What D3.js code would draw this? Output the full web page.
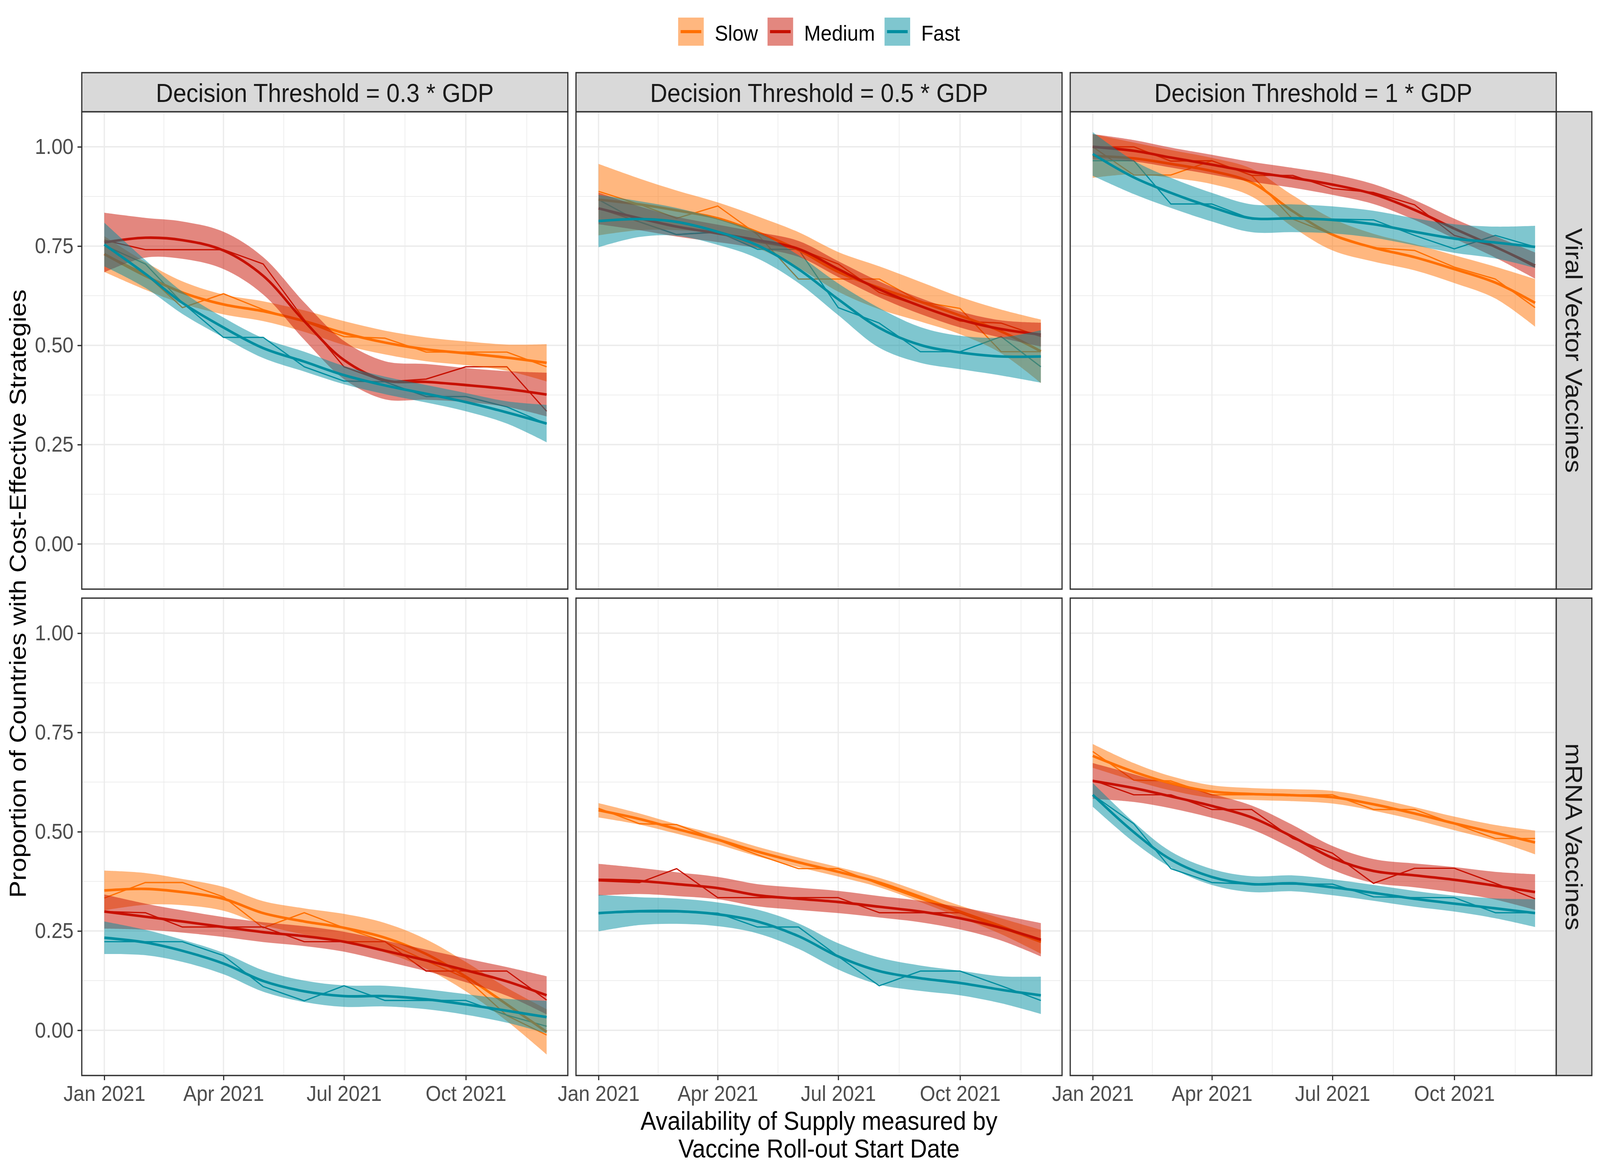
<!DOCTYPE html>
<html>
<head>
<meta charset="utf-8">
<script src="https://cdn.jsdelivr.net/npm/d3@7"></script>
<style>
  html, body { margin: 0; padding: 0; background: #fff; overflow: hidden; }
  svg { display: block; width: 100vw; height: 100vh; font-family: "Liberation Sans", Arial, sans-serif; }
</style>
</head>
<body>
<div id="chart"></div>
<script>
// categories
const months = ["2021-01-01", "2021-02-01", "2021-03-01", "2021-04-01", "2021-05-01", "2021-06-01",
  "2021-07-01", "2021-08-01", "2021-09-01", "2021-10-01", "2021-11-01", "2021-12-01"];
const vaccines = ["Viral Vector Vaccines", "mRNA Vaccines"];
const thresholds = ["Decision Threshold = 0.3 * GDP", "Decision Threshold = 0.5 * GDP", "Decision Threshold = 1 * GDP"];
const speeds = ["Slow", "Medium", "Fast"];
const yTicks = [0, 0.25, 0.5, 0.75, 1];
const xTicks = ["2021-01-01", "2021-04-01", "2021-07-01", "2021-10-01"];

// viral vector, 0.3 * GDP
const vv03SlowRaw = [0.73, 0.68, 0.595, 0.63, 0.59, 0.56, 0.522, 0.518, 0.483, 0.483, 0.483, 0.446];
const vv03SlowFit = [0.73, 0.675, 0.633, 0.603, 0.586, 0.561, 0.531, 0.507, 0.49, 0.48, 0.469, 0.456];
const vv03SlowSe = [0.045, 0.035, 0.028, 0.025, 0.025, 0.027, 0.03, 0.03, 0.03, 0.03, 0.033, 0.047];
const vv03MediumRaw = [0.765, 0.741, 0.741, 0.741, 0.705, 0.565, 0.446, 0.408, 0.415, 0.446, 0.446, 0.334];
const vv03MediumFit = [0.759, 0.771, 0.765, 0.739, 0.675, 0.561, 0.463, 0.412, 0.408, 0.4, 0.39, 0.376];
const vv03MediumSe = [0.075, 0.05, 0.047, 0.047, 0.047, 0.047, 0.048, 0.048, 0.045, 0.043, 0.045, 0.055];
const vv03FastRaw = [0.752, 0.705, 0.607, 0.52, 0.52, 0.446, 0.41, 0.408, 0.371, 0.371, 0.345, 0.302];
const vv03FastFit = [0.754, 0.68, 0.607, 0.545, 0.493, 0.459, 0.425, 0.399, 0.378, 0.357, 0.331, 0.303];
const vv03FastSe = [0.055, 0.035, 0.028, 0.025, 0.025, 0.025, 0.023, 0.022, 0.022, 0.023, 0.028, 0.047];

// viral vector, 0.5 * GDP
const vv05SlowRaw = [0.888, 0.855, 0.82, 0.851, 0.779, 0.667, 0.667, 0.667, 0.61, 0.593, 0.484, 0.484];
const vv05SlowFit = [0.867, 0.855, 0.84, 0.82, 0.785, 0.74, 0.685, 0.645, 0.61, 0.575, 0.535, 0.485];
const vv05SlowSe = [0.09, 0.065, 0.05, 0.04, 0.04, 0.045, 0.05, 0.054, 0.05, 0.047, 0.055, 0.08];
const vv05MediumRaw = [0.845, 0.811, 0.779, 0.785, 0.76, 0.743, 0.705, 0.633, 0.599, 0.561, 0.556, 0.522];
const vv05MediumFit = [0.845, 0.82, 0.799, 0.782, 0.765, 0.743, 0.692, 0.641, 0.599, 0.565, 0.541, 0.527];
const vv05MediumSe = [0.04, 0.03, 0.025, 0.022, 0.02, 0.02, 0.02, 0.02, 0.02, 0.02, 0.022, 0.03];
const vv05FastRaw = [0.867, 0.811, 0.779, 0.786, 0.742, 0.742, 0.595, 0.556, 0.484, 0.484, 0.522, 0.446];
const vv05FastFit = [0.813, 0.818, 0.811, 0.786, 0.752, 0.692, 0.616, 0.544, 0.501, 0.482, 0.472, 0.472];
const vv05FastSe = [0.066, 0.045, 0.035, 0.033, 0.033, 0.035, 0.04, 0.05, 0.045, 0.042, 0.048, 0.066];

// viral vector, 1 * GDP
const vv10SlowRaw = [1.0, 0.929, 0.929, 0.965, 0.928, 0.818, 0.779, 0.746, 0.739, 0.697, 0.667, 0.595];
const vv10SlowFit = [0.977, 0.971, 0.957, 0.939, 0.91, 0.838, 0.779, 0.746, 0.722, 0.692, 0.658, 0.607];
const vv10SlowSe = [0.055, 0.04, 0.035, 0.033, 0.035, 0.04, 0.04, 0.035, 0.033, 0.035, 0.04, 0.06];
const vv10MediumRaw = [1.0, 1.0, 0.964, 0.965, 0.928, 0.928, 0.895, 0.885, 0.854, 0.777, 0.748, 0.697];
const vv10MediumFit = [1.0, 0.99, 0.973, 0.955, 0.937, 0.922, 0.905, 0.881, 0.841, 0.794, 0.748, 0.701];
const vv10MediumSe = [0.032, 0.027, 0.025, 0.025, 0.025, 0.025, 0.026, 0.025, 0.025, 0.025, 0.027, 0.033];
const vv10FastRaw = [0.965, 0.965, 0.856, 0.856, 0.818, 0.818, 0.818, 0.816, 0.777, 0.743, 0.777, 0.748];
const vv10FastFit = [0.982, 0.923, 0.884, 0.848, 0.82, 0.82, 0.816, 0.805, 0.786, 0.769, 0.759, 0.748];
const vv10FastSe = [0.055, 0.042, 0.038, 0.036, 0.035, 0.035, 0.034, 0.034, 0.034, 0.036, 0.04, 0.053];

// mRNA, 0.3 * GDP
const mr03SlowRaw = [0.333, 0.372, 0.372, 0.336, 0.258, 0.296, 0.258, 0.223, 0.175, 0.131, 0.037, -0.012];
const mr03SlowFit = [0.352, 0.356, 0.348, 0.331, 0.295, 0.274, 0.258, 0.233, 0.192, 0.135, 0.065, -0.004];
const mr03SlowSe = [0.05, 0.04, 0.033, 0.03, 0.03, 0.033, 0.035, 0.037, 0.037, 0.037, 0.042, 0.057];
const mr03MediumRaw = [0.299, 0.296, 0.26, 0.26, 0.26, 0.223, 0.223, 0.223, 0.149, 0.149, 0.149, 0.076];
const mr03MediumFit = [0.299, 0.286, 0.274, 0.26, 0.247, 0.237, 0.223, 0.2, 0.176, 0.151, 0.123, 0.088];
const mr03MediumSe = [0.043, 0.033, 0.028, 0.025, 0.025, 0.025, 0.025, 0.026, 0.027, 0.03, 0.036, 0.048];
const mr03FastRaw = [0.223, 0.223, 0.223, 0.188, 0.11, 0.074, 0.112, 0.075, 0.075, 0.075, 0.038, 0.01];
const mr03FastFit = [0.233, 0.221, 0.2, 0.168, 0.124, 0.098, 0.086, 0.086, 0.078, 0.065, 0.049, 0.033];
const mr03FastSe = [0.041, 0.032, 0.028, 0.027, 0.027, 0.027, 0.027, 0.026, 0.025, 0.026, 0.03, 0.041];

// mRNA, 0.5 * GDP
const mr05SlowRaw = [0.559, 0.52, 0.518, 0.479, 0.442, 0.407, 0.407, 0.368, 0.331, 0.295, 0.258, 0.221];
const mr05SlowFit = [0.554, 0.532, 0.507, 0.48, 0.45, 0.423, 0.399, 0.372, 0.336, 0.299, 0.262, 0.223];
const mr05SlowSe = [0.018, 0.014, 0.012, 0.012, 0.012, 0.012, 0.012, 0.012, 0.013, 0.015, 0.02, 0.03];
const mr05MediumRaw = [0.376, 0.372, 0.407, 0.334, 0.334, 0.334, 0.334, 0.296, 0.296, 0.296, 0.262, 0.227];
const mr05MediumFit = [0.379, 0.376, 0.368, 0.358, 0.34, 0.331, 0.323, 0.311, 0.299, 0.282, 0.258, 0.228];
const mr05MediumSe = [0.04, 0.033, 0.03, 0.028, 0.028, 0.028, 0.028, 0.027, 0.027, 0.028, 0.032, 0.042];
const mr05FastRaw = [0.295, 0.298, 0.298, 0.295, 0.26, 0.26, 0.186, 0.112, 0.149, 0.149, 0.112, 0.075];
const mr05FastFit = [0.295, 0.3, 0.3, 0.292, 0.274, 0.237, 0.186, 0.149, 0.131, 0.119, 0.102, 0.088];
const mr05FastSe = [0.046, 0.035, 0.032, 0.03, 0.03, 0.032, 0.033, 0.034, 0.032, 0.031, 0.034, 0.047];

// mRNA, 1 * GDP
const mr10SlowRaw = [0.702, 0.63, 0.628, 0.593, 0.593, 0.593, 0.593, 0.556, 0.556, 0.52, 0.483, 0.483];
const mr10SlowFit = [0.691, 0.651, 0.622, 0.601, 0.595, 0.592, 0.587, 0.569, 0.546, 0.521, 0.497, 0.473];
const mr10SlowSe = [0.03, 0.022, 0.018, 0.016, 0.015, 0.015, 0.016, 0.016, 0.016, 0.017, 0.02, 0.03];
const mr10MediumRaw = [0.63, 0.593, 0.593, 0.556, 0.556, 0.483, 0.446, 0.37, 0.408, 0.408, 0.37, 0.331];
const mr10MediumFit = [0.628, 0.61, 0.589, 0.565, 0.536, 0.487, 0.434, 0.401, 0.39, 0.379, 0.364, 0.348];
const mr10MediumSe = [0.045, 0.035, 0.03, 0.03, 0.03, 0.03, 0.03, 0.03, 0.03, 0.032, 0.035, 0.045];
const mr10FastRaw = [0.593, 0.52, 0.407, 0.372, 0.368, 0.368, 0.368, 0.336, 0.334, 0.334, 0.296, 0.296];
const mr10FastFit = [0.593, 0.499, 0.43, 0.386, 0.368, 0.37, 0.36, 0.346, 0.331, 0.319, 0.307, 0.295];
const mr10FastSe = [0.03, 0.025, 0.02, 0.02, 0.02, 0.02, 0.02, 0.02, 0.02, 0.02, 0.025, 0.035];

const panelSeries = [
  [
    {Slow: [vv03SlowRaw, vv03SlowFit, vv03SlowSe], Medium: [vv03MediumRaw, vv03MediumFit, vv03MediumSe], Fast: [vv03FastRaw, vv03FastFit, vv03FastSe]},
    {Slow: [vv05SlowRaw, vv05SlowFit, vv05SlowSe], Medium: [vv05MediumRaw, vv05MediumFit, vv05MediumSe], Fast: [vv05FastRaw, vv05FastFit, vv05FastSe]},
    {Slow: [vv10SlowRaw, vv10SlowFit, vv10SlowSe], Medium: [vv10MediumRaw, vv10MediumFit, vv10MediumSe], Fast: [vv10FastRaw, vv10FastFit, vv10FastSe]}
  ],
  [
    {Slow: [mr03SlowRaw, mr03SlowFit, mr03SlowSe], Medium: [mr03MediumRaw, mr03MediumFit, mr03MediumSe], Fast: [mr03FastRaw, mr03FastFit, mr03FastSe]},
    {Slow: [mr05SlowRaw, mr05SlowFit, mr05SlowSe], Medium: [mr05MediumRaw, mr05MediumFit, mr05MediumSe], Fast: [mr05FastRaw, mr05FastFit, mr05FastSe]},
    {Slow: [mr10SlowRaw, mr10SlowFit, mr10SlowSe], Medium: [mr10MediumRaw, mr10MediumFit, mr10MediumSe], Fast: [mr10FastRaw, mr10FastFit, mr10FastSe]}
  ]
];

const colors = {Slow: "#FF6F00", Medium: "#C71000", Fast: "#008EA0"};

// layout (drawn in a 4500 x 3000 space, stretched onto the window)
const width = 4500, height = 3000;
const left = 230, panelW = 1367, panelH = 1222, gap = 23;
const stripH = 100, stripTop = 186, stripW = 100;
const rowTop = [stripTop + stripH, stripTop + stripH + panelH + gap];
const colLeft = [0, 1, 2].map(i => left + i * (panelW + gap));

const parse = d3.utcParse("%Y-%m-%d");
const dates = months.map(parse);

const svg = d3.select("#chart").append("svg")
  .attr("viewBox", `0 0 ${width} ${height}`)
  .attr("preserveAspectRatio", "none")
  .style("background", "#fff");

const x = d3.scaleUtc()
  .domain([d3.utcDay.offset(dates[0], -16.7), d3.utcDay.offset(dates[11], 16.7)])
  .range([0, panelW]);
const y = d3.scaleLinear()
  .domain([-0.114, 1.0884])
  .range([panelH, 0]);

const majorX = xTicks.map(parse);
const minorX = majorX.map((d, i) => {
  const next = i < majorX.length - 1 ? majorX[i + 1] : d3.utcMonth.offset(d, 3);
  return new Date((d.getTime() + next.getTime()) / 2);
}).filter(d => x(d) > 0 && x(d) < panelW);
const minorY = [0.125, 0.375, 0.625, 0.875];

const fitLine = d3.line()
  .x((d, i) => x(dates[i]))
  .y(d => y(d))
  .curve(d3.curveCatmullRom.alpha(0.5));
const rawLine = d3.line()
  .x((d, i) => x(dates[i]))
  .y(d => y(d));

vaccines.forEach((vac, r) => {
  thresholds.forEach((thr, c) => {
    const g = svg.append("g").attr("transform", `translate(${colLeft[c]},${rowTop[r]})`);
    const series = panelSeries[r][c];

    g.append("rect").attr("width", panelW).attr("height", panelH).attr("fill", "#fff");

    // grid
    g.selectAll(".minx").data(minorX).enter().append("line")
      .attr("x1", d => x(d)).attr("x2", d => x(d)).attr("y1", 0).attr("y2", panelH)
      .attr("stroke", "#EBEBEB").attr("stroke-width", 1.8);
    g.selectAll(".miny").data(minorY).enter().append("line")
      .attr("x1", 0).attr("x2", panelW).attr("y1", d => y(d)).attr("y2", d => y(d))
      .attr("stroke", "#EBEBEB").attr("stroke-width", 1.8);
    g.selectAll(".majx").data(majorX).enter().append("line")
      .attr("x1", d => x(d)).attr("x2", d => x(d)).attr("y1", 0).attr("y2", panelH)
      .attr("stroke", "#EBEBEB").attr("stroke-width", 3.5);
    g.selectAll(".majy").data(yTicks).enter().append("line")
      .attr("x1", 0).attr("x2", panelW).attr("y1", d => y(d)).attr("y2", d => y(d))
      .attr("stroke", "#EBEBEB").attr("stroke-width", 3.5);

    // raw lines
    speeds.forEach(s => {
      g.append("path").datum(series[s][0])
        .attr("d", rawLine)
        .attr("fill", "none")
        .attr("stroke", colors[s])
        .attr("stroke-width", 3.2)
        .attr("stroke-linejoin", "round");
    });

    // smooth ribbons + lines
    speeds.forEach(s => {
      const fit = series[s][1], se = series[s][2];
      const area = d3.area()
        .x((d, i) => x(dates[i]))
        .y0((d, i) => y(fit[i] - se[i]))
        .y1((d, i) => y(fit[i] + se[i]))
        .curve(d3.curveCatmullRom.alpha(0.5));
      g.append("path").datum(fit)
        .attr("d", area)
        .attr("fill", colors[s])
        .attr("fill-opacity", 0.5);
      g.append("path").datum(fit)
        .attr("d", fitLine)
        .attr("fill", "none")
        .attr("stroke", colors[s])
        .attr("stroke-width", 6.6);
    });

    g.append("rect").attr("width", panelW).attr("height", panelH)
      .attr("fill", "none").attr("stroke", "#333333").attr("stroke-width", 3.4);

    // axes
    if (c === 0) {
      const ax = g.append("g").call(d3.axisLeft(y).tickValues(yTicks).tickFormat(d3.format(".2f"))
        .tickSize(12).tickPadding(11).tickSizeOuter(0));
      ax.select(".domain").remove();
      ax.selectAll("line").attr("stroke", "#333333").attr("stroke-width", 3.4);
      ax.selectAll("text").attr("fill", "#4D4D4D").style("font-size", "56px")
        .style("font-family", "'Liberation Sans', Arial, sans-serif");
    }
    if (r === 1) {
      const ax = g.append("g").attr("transform", `translate(0,${panelH})`)
        .call(d3.axisBottom(x).tickValues(majorX).tickFormat(d3.utcFormat("%b %Y"))
          .tickSize(12).tickPadding(13).tickSizeOuter(0));
      ax.select(".domain").remove();
      ax.selectAll("line").attr("stroke", "#333333").attr("stroke-width", 3.4);
      ax.selectAll("text").attr("fill", "#4D4D4D").style("font-size", "56px")
        .style("font-family", "'Liberation Sans', Arial, sans-serif");
    }

    // top strips
    if (r === 0) {
      const st = svg.append("g").attr("transform", `translate(${colLeft[c]},${stripTop})`);
      st.append("rect").attr("width", panelW).attr("height", stripH)
        .attr("fill", "#D9D9D9").attr("stroke", "#333333").attr("stroke-width", 3.4);
      st.append("text").attr("x", panelW / 2).attr("y", 75)
        .attr("text-anchor", "middle").attr("fill", "#1A1A1A").style("font-size", "67px")
        .text(thr);
    }
  });

  // right strip
  const rs = svg.append("g").attr("transform", `translate(${colLeft[2] + panelW},${rowTop[r]})`);
  rs.append("rect").attr("width", stripW).attr("height", panelH)
    .attr("fill", "#D9D9D9").attr("stroke", "#333333").attr("stroke-width", 3.4);
  rs.append("text").attr("transform", `translate(26,${panelH / 2}) rotate(90)`)
    .attr("text-anchor", "middle").attr("fill", "#1A1A1A").style("font-size", "67px")
    .text(vac);
});

// axis titles
const plotMidX = (colLeft[0] + colLeft[2] + panelW) / 2;
const xt = svg.append("text").attr("text-anchor", "middle").attr("fill", "#000").style("font-size", "66px");
xt.append("tspan").attr("x", plotMidX).attr("y", 2892).text("Availability of Supply measured by");
xt.append("tspan").attr("x", plotMidX).attr("y", 2963).text("Vaccine Roll-out Start Date");

svg.append("text")
  .attr("transform", `translate(73,${(rowTop[0] + rowTop[1] + panelH) / 2}) rotate(-90)`)
  .attr("text-anchor", "middle").attr("fill", "#000").style("font-size", "66px")
  .text("Proportion of Countries with Cost-Effective Strategies");

// legend
const legend = svg.append("g");
const keySize = 72, keyGap = 31, itemGap = 27;
let lx = 0;
speeds.forEach(s => {
  const it = legend.append("g").attr("transform", `translate(${lx},45)`);
  it.append("rect").attr("width", keySize).attr("height", keySize)
    .attr("fill", colors[s]).attr("fill-opacity", 0.5);
  it.append("line").attr("x1", 7).attr("x2", keySize - 7).attr("y1", keySize / 2).attr("y2", keySize / 2)
    .attr("stroke", colors[s]).attr("stroke-width", 8);
  const t = it.append("text").attr("x", keySize + keyGap).attr("y", 59)
    .attr("fill", "#000").style("font-size", "56px").text(s);
  lx += keySize + keyGap + t.node().getComputedTextLength() + itemGap;
});
const legendW = lx - itemGap;
legend.attr("transform", `translate(${plotMidX - legendW / 2},0)`);
</script>
</body>
</html>
